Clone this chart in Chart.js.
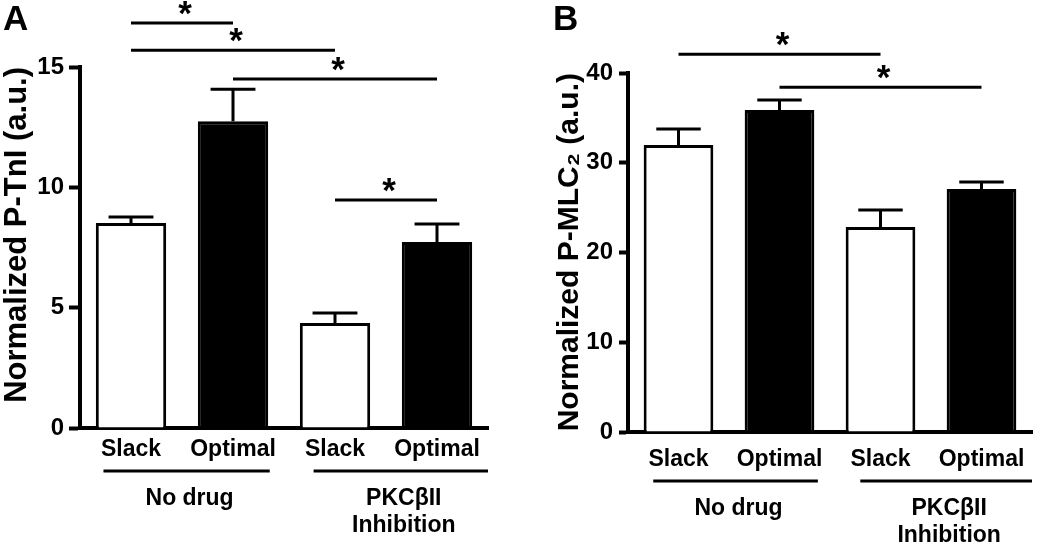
<!DOCTYPE html>
<html lang="en">
<head>
    <meta charset="UTF-8">
    <title>Normalized P-TnI and P-MLC2</title>
    <script src="https://cdn.jsdelivr.net/npm/chart.js@4.4.1/dist/chart.umd.min.js"></script>
    <style>
        body, html {
            margin: 0;
            padding: 0;
            background: #fff;
            overflow: hidden;
        }

        .panel {
            position: absolute;
            top: 0;
            height: 543px;
        }

        #panelA { left: 0; width: 520px; }
        #panelB { left: 520px; width: 530px; }
    </style>
</head>
<body>

<div class="panel" id="panelA"><canvas id="chartA"></canvas></div>
<div class="panel" id="panelB"><canvas id="chartB"></canvas></div>

<script>
    const categories = ['Slack', 'Optimal', 'Slack', 'Optimal'];
    const groupNames = [['No drug'], ['PKCβII', 'Inhibition']];
    const groupMembers = [[0, 1], [2, 3]];

    // panel A - P-TnI
    const tniMeans = [8.52, 12.75, 4.36, 7.73];
    const tniErrors = [0.25, 1.33, 0.42, 0.75];
    const tniTicks = [0, 5, 10, 15];
    // [bar, bar, level]
    const tniSig = [[0, 1, 16.83], [0, 2, 15.7], [1, 3, 14.5], [2, 3, 9.47]];

    // panel B - P-MLC2
    const mlcMeans = [31.98, 35.88, 22.84, 27.08];
    const mlcErrors = [1.78, 1.11, 1.9, 0.78];
    const mlcTicks = [0, 10, 20, 30, 40];
    const mlcSig = [[0, 2, 42.1], [1, 3, 38.4]];

    const BOLD = '"Liberation Sans", Arial, sans-serif';

    // error bars, significance lines, group labels, panel letter
    const annotate = {
        id: 'annotate',
        afterDatasetsDraw(chart, args, o) {
            const ctx = chart.ctx;
            const ys = chart.scales.y;
            const bars = chart.getDatasetMeta(0).data;
            const cap = chart.scales.x.width / categories.length * 0.22;
            ctx.save();
            ctx.strokeStyle = '#000';
            ctx.lineWidth = 3;
            o.errors.forEach((e, i) => {
                const x = bars[i].x;
                const y0 = ys.getPixelForValue(o.means[i]);
                const y1 = ys.getPixelForValue(o.means[i] + e);
                ctx.beginPath();
                ctx.moveTo(x, y0);
                ctx.lineTo(x, y1);
                ctx.moveTo(x - cap, y1);
                ctx.lineTo(x + cap, y1);
                ctx.stroke();
            });
            ctx.restore();
        },
        afterDraw(chart, args, o) {
            const ctx = chart.ctx;
            const area = chart.chartArea;
            const xs = chart.scales.x;
            const ys = chart.scales.y;
            const step = xs.width / categories.length;
            ctx.save();
            ctx.strokeStyle = '#000';
            ctx.fillStyle = '#000';
            ctx.lineWidth = 3;
            ctx.textAlign = 'center';
            ctx.textBaseline = 'alphabetic';

            o.sig.forEach(([a, b, lvl]) => {
                const x0 = xs.getPixelForValue(a);
                const x1 = xs.getPixelForValue(b);
                const y = ys.getPixelForValue(lvl);
                ctx.beginPath();
                ctx.moveTo(x0, y);
                ctx.lineTo(x1, y);
                ctx.stroke();
                ctx.font = 'bold 35px ' + BOLD;
                ctx.fillText('*', (x0 + x1) / 2 + 3, y + 2);
            });

            groupMembers.forEach((m, g) => {
                const x0 = xs.getPixelForValue(m[0]) + step * o.groupSpan[g][0];
                const x1 = xs.getPixelForValue(m[m.length - 1]) + step * o.groupSpan[g][1];
                const y = area.bottom + o.groupLineDy;
                ctx.beginPath();
                ctx.moveTo(x0, y);
                ctx.lineTo(x1, y);
                ctx.stroke();
                ctx.font = 'bold 23px ' + BOLD;
                groupNames[g].forEach((t, k) => {
                    ctx.fillText(t, (x0 + x1) / 2 + 3, area.bottom + o.groupTextDy + k * 27);
                });
            });

            ctx.textAlign = 'left';
            ctx.font = 'bold 35px ' + BOLD;
            ctx.fillText(o.letter, o.letterX, 30);
            ctx.restore();
        }
    };

    function makeChart(id, means, errors, ticks, sig, yTitle, lay) {
        return new Chart(document.getElementById(id), {
            type: 'bar',
            data: {
                labels: categories,
                datasets: [{
                    data: means,
                    backgroundColor: ['#fff', '#000', '#fff', '#000'],
                    borderColor: '#000',
                    borderWidth: 3,
                    borderSkipped: 'bottom',
                    barPercentage: 0.69,
                    categoryPercentage: 1
                }]
            },
            options: {
                responsive: true,
                maintainAspectRatio: false,
                animation: false,
                layout: { padding: lay.padding },
                plugins: {
                    legend: { display: false },
                    tooltip: { enabled: false },
                    annotate: {
                        means: means,
                        errors: errors,
                        sig: sig,
                        letter: lay.letter,
                        letterX: lay.letterX,
                        groupSpan: lay.groupSpan,
                        groupLineDy: lay.groupLineDy,
                        groupTextDy: lay.groupTextDy
                    }
                },
                scales: {
                    x: {
                        z: 1,
                        grid: { display: false, drawTicks: false },
                        border: { color: '#000', width: 4 },
                        ticks: {
                            color: '#000',
                            padding: lay.xPad,
                            font: { family: BOLD, size: 23, weight: 'bold' }
                        },
                        afterFit: s => { s.height = lay.xHeight; }
                    },
                    y: {
                        z: 1,
                        min: 0,
                        max: ticks[ticks.length - 1],
                        afterBuildTicks: s => { s.ticks = ticks.map(v => ({ value: v })); },
                        grid: {
                            drawOnChartArea: false,
                            tickLength: lay.tickLen,
                            tickWidth: 4,
                            tickColor: '#000'
                        },
                        border: { color: '#000', width: 4 },
                        ticks: {
                            color: '#000',
                            padding: lay.yPad,
                            font: { family: BOLD, size: 24, weight: 'bold' }
                        },
                        title: {
                            display: true,
                            text: yTitle,
                            align: 'end',
                            color: '#000',
                            padding: { top: 0, bottom: 0 },
                            font: { family: BOLD, size: lay.titleSize, weight: 'bold', lineHeight: 1.1 }
                        },
                        afterFit: s => { s.width = lay.yWidth; }
                    }
                }
            },
            plugins: [annotate]
        });
    }

    makeChart('chartA', tniMeans, tniErrors, tniTicks, tniSig, 'Normalized P-TnI (a.u.)', {
        padding: { left: 0, right: 32, top: 67, bottom: 0 },
        yWidth: 80, xHeight: 115, xPad: 8, tickLen: 11, yPad: 5,
        titleSize: 31,
        letter: 'A', letterX: 3,
        groupSpan: [[-0.27, 0.36], [-0.21, 0.5]],
        groupLineDy: 43, groupTextDy: 77
    });

    makeChart('chartB', mlcMeans, mlcErrors, mlcTicks, mlcSig, 'Normalized P-MLC₂ (a.u.)', {
        padding: { left: 33, right: 18, top: 73, bottom: 0 },
        yWidth: 75, xHeight: 111, xPad: 14, tickLen: 9, yPad: 6,
        titleSize: 30,
        letter: 'B', letterX: 33,
        groupSpan: [[-0.25, 0.38], [-0.2, 0.5]],
        groupLineDy: 49, groupTextDy: 83
    });
</script>

</body>
</html>
